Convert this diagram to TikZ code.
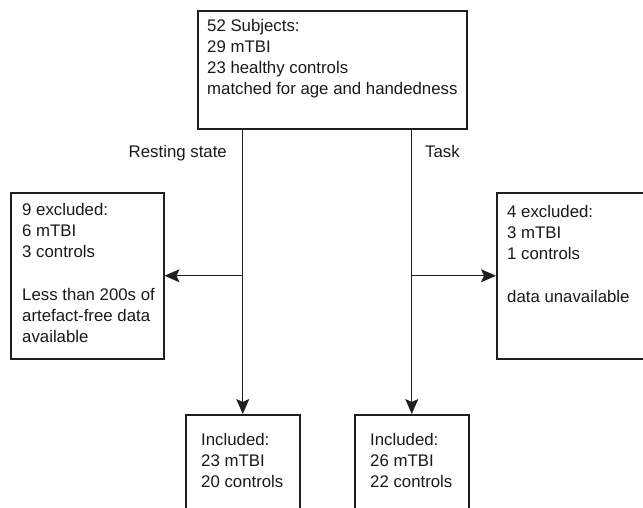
\documentclass[tikz,border=0pt]{standalone}
\usepackage{fontspec}
\setmainfont{Liberation Sans}
\usetikzlibrary{arrows.meta}
\begin{document}
\begin{tikzpicture}[x=1pt,y=-1pt,
  box/.style={draw=black!88, line width=1.5pt, anchor=north west, inner sep=0pt},
  txt/.style={anchor=base west, inner sep=0pt, text=black!90, font=\fontsize{16.8}{21.3}\selectfont},
  arr/.style={draw=black!88, line width=1.4pt, -{Stealth[length=15pt,width=13pt,inset=3pt]}}]
\clip (0,0) rectangle (643,507);
% boxes
\node[box, minimum width=269pt, minimum height=118pt] (top) at (197,10) {};
\node[box, minimum width=153pt, minimum height=166pt] (left) at (10,192) {};
\node[box, minimum width=153pt, minimum height=166pt] (right) at (496,192) {};
\node[box, minimum width=114pt, minimum height=120pt] (bl) at (185,414) {};
\node[box, minimum width=114pt, minimum height=120pt] (br) at (354,414) {};
% texts
\node[txt] (ttop) at (207,31) {\vtop{\hbox{52 Subjects:}\hbox{29 mTBI}\hbox{23 healthy controls}\hbox{matched for age and handedness}}};
\node[txt] (tleft) at (22,215) {\vtop{\hbox{9 excluded:}\hbox{6 mTBI}\hbox{3 controls}\hbox{}\hbox{Less than 200s of}\hbox{artefact-free data}\hbox{available}}};
\node[txt] (tright) at (507,217) {\vtop{\hbox{4 excluded:}\hbox{3 mTBI}\hbox{1 controls}\hbox{}\hbox{data unavailable}}};
\node[txt] (tbl) at (201,445) {\vtop{\hbox{Included:}\hbox{23 mTBI}\hbox{20 controls}}};
\node[txt] (tbr) at (370,445) {\vtop{\hbox{Included:}\hbox{26 mTBI}\hbox{22 controls}}};
\node[txt, anchor=base east] (rs) at (227,157) {Resting state};
\node[txt] (task) at (425,157) {Task};
% connectors
\draw[arr] (top.south -| bl.north) -- (bl.north);
\draw[arr] (top.south -| br.north) -- (br.north);
\draw[arr] (bl.north |- left.east) -- (left.east);
\draw[arr] (br.north |- right.west) -- (right.west);
\end{tikzpicture}
\end{document}
